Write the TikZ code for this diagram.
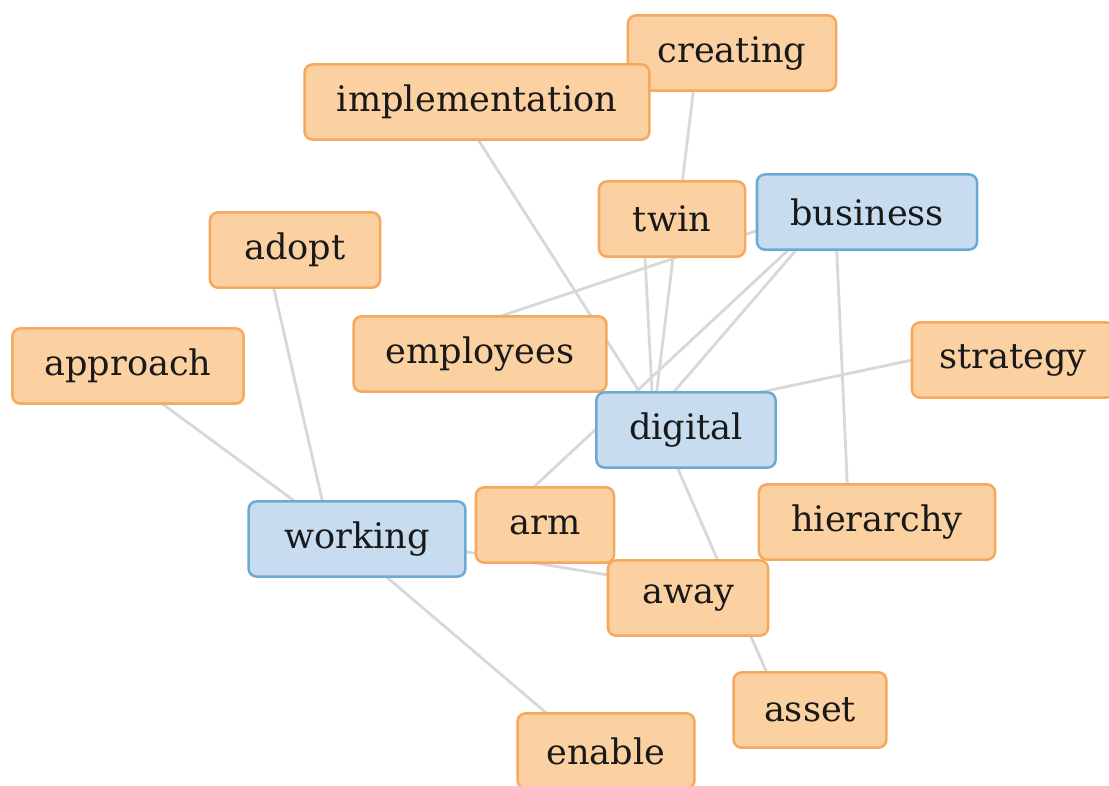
\documentclass[tikz,border=0pt]{standalone}
\usepackage{xcolor}
\usepackage{fontspec}
\setmainfont{DejaVu Serif}
\usepackage{tikz}
\usetikzlibrary{calc,backgrounds}

\definecolor{termfill}{RGB}{252,209,162}
\definecolor{termline}{RGB}{246,168,92}
\definecolor{hubfill}{RGB}{200,220,240}
\definecolor{hubline}{RGB}{108,170,212}
\definecolor{linkgray}{RGB}{216,216,216}

\tikzset{
	term/.style={shape=rectangle, rounded corners=0.2cm, draw=termline, fill=termfill, line width=1.8pt, inner sep=0, minimum height=1.88cm, font=\fontsize{25}{28}\selectfont, text=black!90},
	hub/.style={term, draw=hubline, fill=hubfill},
	link/.style={draw=linkgray, line width=2pt}
}

\begin{document}
\begin{tikzpicture}[x=0.025cm, y=-0.025cm]
	\useasboundingbox (0, 0) rectangle (1109, 785);
	\clip (0, 0) rectangle (1109, 785);
	% Nodes:
	\node[term, minimum width=5.2cm](Creating) at (732, 53){creating};
	\node[term, minimum width=8.62cm](Implementation) at (477, 102){implementation};
	\node[term, minimum width=3.65cm](Twin) at (672, 219){twin};
	\node[hub, minimum width=5.5cm](Business) at (867, 212){business};
	\node[term, minimum width=4.25cm](Adopt) at (295, 250){adopt};
	\node[term, minimum width=5.78cm](Approach) at (128, 366){approach};
	\node[term, minimum width=6.32cm](Employees) at (480, 354){employees};
	\node[term, minimum width=5.05cm](Strategy) at (1013, 360){strategy};
	\node[hub, minimum width=4.48cm](Digital) at (686, 430){digital};
	\node[hub, minimum width=5.42cm](Working) at (357, 539){working};
	\node[term, minimum width=5.9cm](Hierarchy) at (877, 522){hierarchy};
	\node[term, minimum width=3.45cm](Arm) at (545, 525){arm};
	\node[term, minimum width=4cm](Away) at (688, 598){away};
	\node[term, minimum width=3.82cm](Asset) at (810, 710){asset};
	\node[term, minimum width=4.42cm](Enable) at (606, 751){enable};
	% Links (behind the nodes):
	\begin{pgfonlayer}{background}
		\draw[link] ($(Creating)+(-34,0)$) -- ($(Digital)+(-34,0)$);
		\draw[link] ($(Twin)+(-29,0)$) -- ($(Digital)+(-32,0)$);
		\draw[link] ($(Employees)+(0,-31)$) -- ($(Business)+(0,-18)$);
		\draw[link] ($(Implementation)+(-23,0)$) -- ($(Digital)+(-22,0)$);
		\draw[link] ($(Business)+(-38,0)$) -- ($(Arm)+(-52,0)$);
		\draw[link] ($(Business)+(-38,0)$) -- ($(Digital)+(-45,0)$);
		\draw[link] ($(Strategy)+(-2,-21)$) -- ($(Digital)+(0,-22)$);
		\draw[link] ($(Business)+(-32,0)$) -- ($(Hierarchy)+(-28,0)$);
		\draw[link] ($(Digital)+(-25,0)$) -- ($(Asset)+(-27,0)$);
		\draw[link] ($(Working)+(0,-5)$) -- ($(Away)+(0,-10)$);
		\draw[link] ($(Working)+(-15,0)$) -- ($(Enable)+(-15,0)$);
		\draw[link] ($(Adopt)+(-30,0)$) -- ($(Working)+(-26,0)$);
		\draw[link] ($(Approach)+(-17,0)$) -- ($(Working)+(-11,0)$);
	\end{pgfonlayer}
\end{tikzpicture}
\end{document}
